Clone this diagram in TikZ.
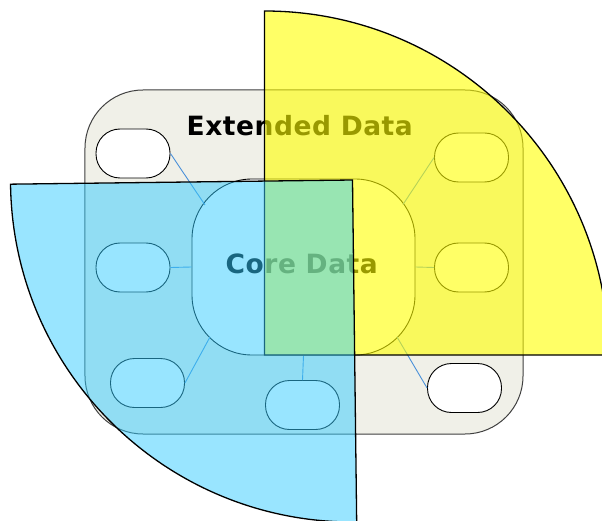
\documentclass[tikz,border=0pt]{standalone}
\usepackage{fontspec}
\setmainfont{Liberation Sans}
\newfontfamily\labelfont[LetterSpace=2,UprightFont={* Bold}]{DejaVu Sans}

\definecolor{panelgray}{HTML}{F0F0E8}
\definecolor{linkblue}{HTML}{4A90D9}
\definecolor{coreblue}{HTML}{33CCFF}
\definecolor{extyellow}{HTML}{FFFF00}

\begin{document}
\begin{tikzpicture}[x=1bp,y=-1bp,
  panel/.style={draw=black!75, line width=1bp, fill=panelgray, rectangle,
    rounded corners=58bp, minimum width=438bp, minimum height=344bp, inner sep=0pt},
  pill/.style={draw=black, line width=0.9bp, fill=white, rectangle,
    rounded corners=24bp, minimum width=74bp, minimum height=49bp, inner sep=0pt},
  corebox/.style={draw=black, line width=0.9bp, fill=white, rectangle,
    rounded corners=60bp, minimum width=223bp, minimum height=176bp, inner sep=0pt},
  link/.style={draw=linkblue, line width=0.9bp},
  title/.style={font={\labelfont\fontsize{26.5bp}{30bp}\selectfont},
    inner sep=0pt, anchor=base west, text=black},
  sector/.style={draw=black, line width=1.3bp},
]
\useasboundingbox (0,0) rectangle (602,521);
\clip (0,0) rectangle (602,521);

% outer panel
\node[panel] (panel) at (304,262) {};

% central block and the surrounding items
\node[corebox] (core) at (303.5,267) {};
\node[pill] (p1) at (133,153.5) {};
\node[pill] (p2) at (133,267.5) {};
\node[pill] (p3) at (147.5,383) {};
\node[pill] (p4) at (302.5,405) {};
\node[pill] (p5) at (471.5,157.5) {};
\node[pill] (p6) at (471.5,267.5) {};
\node[pill] (p7) at (464.5,388) {};

% points on the rounded corners of the central block
\coordinate (k1) at (205,205);
\coordinate (k3) at (210,337);
\coordinate (k5) at (403,204.5);
\coordinate (k7) at (397,337);

\draw[link] (p1.east) -- (k1);
\draw[link] (p2.east) -- (core.west);
\draw[link] (p3.east) -- (k3);
\draw[link] (p4.north) -- (core.south);
\draw[link] (p5.west) -- (k5);
\draw[link] (p6.west) -- (core.east);
\draw[link] (p7.west) -- (k7);

% labels
\node[title] (extlabel) at (186.5,136) {Extended Data};
\node[title] (corelabel) at (225.5,273) {Core Data};

% yellow quarter disc
\draw[sector, fill=extyellow, fill opacity=0.6]
  (264.5,355) -- (264.5,11) arc[start angle=90, end angle=0, radius=344bp] -- cycle;

% blue quarter disc, slightly turned
\begin{scope}[rotate around={0.7:(352.5,180)}]
  \draw[sector, fill=coreblue, fill opacity=0.5]
    (352.5,180) -- (10.5,180) arc[start angle=180, end angle=270, radius=342bp] -- cycle;
\end{scope}
\end{tikzpicture}
\end{document}
